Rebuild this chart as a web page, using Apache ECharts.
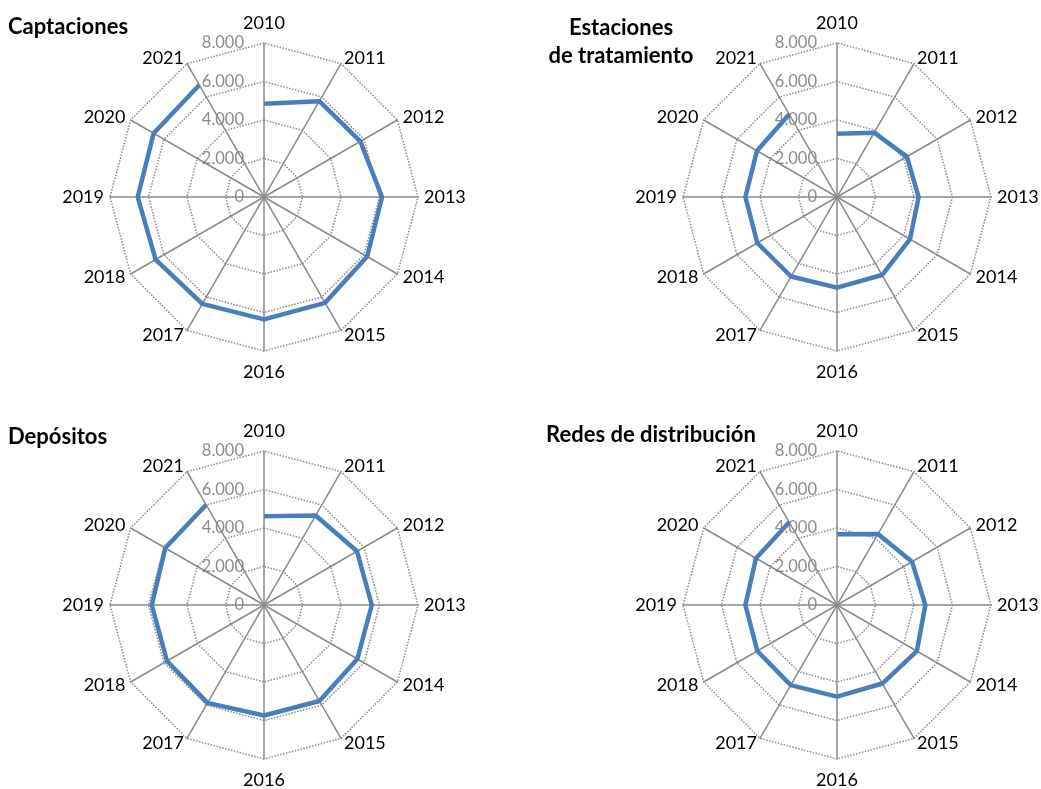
<!DOCTYPE html>
<html><head><meta charset="utf-8">
<script src="https://cdn.jsdelivr.net/npm/echarts@6/dist/echarts.min.js"></script>
<style>html,body{margin:0;padding:0;background:#fff}#c{width:1041px;height:789px}</style>
</head><body><div id="c"></div>
<script>
const years = ['2010','2011','2012','2013','2014','2015','2016','2017','2018','2019','2020','2021'];
const chartTitles = ['Captaciones','Estaciones\nde tratamiento','Depósitos','Redes de distribución'];
const captaciones = [4850,5750,5780,6130,6190,6350,6360,6410,6500,6560,6620,6720];
const estaciones  = [3290,3860,4190,4240,4380,4680,4710,4770,4780,4760,4800,4960];
const depositos   = [4610,5370,5580,5600,5600,5760,5740,5870,5820,5830,5920,6010];
const redes       = [3670,4260,4500,4590,4790,4710,4760,4810,4780,4760,4860,4960];
const radiusTicks = [0,2000,4000,6000,8000];

const seriesData = [captaciones, estaciones, depositos, redes];
const F = 'Lato, "Open Sans", sans-serif';
const centers = [[264,197],[837,197],[264,605],[837,605]];
const R = 154;
const titlePos = [
  {left:8, top:13, textAlign:'left'},
  {left:621, top:14, textAlign:'center'},
  {left:8, top:423, textAlign:'left'},
  {left:546, top:421, textAlign:'left'}
];
const fmt = v => String(v).replace(/\B(?=(\d{3})+(?!\d))/g, '.');
const maxV = radiusTicks[radiusTicks.length-1];
const step = radiusTicks[1]-radiusTicks[0];
const radarOrder = [years[0]].concat(years.slice(1).reverse());
const topName = years[0], bottomName = years[6];

const option = {
  animation:false,
  title: chartTitles.map((t,i)=>({
    text:t, left:titlePos[i].left, top:titlePos[i].top, textAlign:titlePos[i].textAlign, padding:0,
    textStyle:{fontFamily:F, fontWeight:'bold', fontSize:22, color:'#000', lineHeight:28}
  })),
  radar: centers.map(c=>({
    center:c, radius:R, startAngle:90, shape:'polygon', splitNumber:radiusTicks.length-1,
    indicator: radarOrder.map(y=>({name:y, min:0, max:maxV})),
    axisName:{color:'#000', fontSize:18, fontFamily:F,
      formatter: n => n===topName ? '{t|'+n+'}' : n===bottomName ? '{b|'+n+'}' : n,
      rich:{
        t:{fontSize:18, fontFamily:F, color:'#000', padding:[0,0,5,0]},
        b:{fontSize:18, fontFamily:F, color:'#000', padding:[6,0,0,0]}
      }},
    nameGap:6,
    splitLine:{lineStyle:{color:'#8a8a8a', type:'dotted', width:1.5}},
    splitArea:{show:false},
    axisLine:{lineStyle:{color:'#8a8a8a', width:1.5}},
    axisTick:{show:false}, axisLabel:{show:false}
  })),
  polar: centers.map(c=>({center:c, radius:R})),
  angleAxis: centers.map((c,i)=>({
    polarIndex:i, type:'category', data:years, boundaryGap:false, startAngle:90, clockwise:true,
    axisLine:{show:false}, axisTick:{show:false}, axisLabel:{show:false}, splitLine:{show:false}
  })),
  radiusAxis: centers.map((c,i)=>({
    polarIndex:i, type:'value', min:0, max:maxV, interval:step,
    axisLine:{show:false}, axisTick:{show:false}, splitLine:{show:false},
    axisLabel:{show:true, color:'#8c8c8c', fontSize:16.5, fontFamily:F, formatter:fmt, margin:20}
  })),
  series: seriesData.map((d,i)=>({
    type:'line', coordinateSystem:'polar', polarIndex:i, data:d,
    showSymbol:false, symbol:'none', z:5,
    lineStyle:{color:'#4a7ebb', width:4.5}
  }))
};
const chart = echarts.init(document.getElementById('c'), null, {renderer:'canvas'});
chart.setOption(option);
</script></body></html>
